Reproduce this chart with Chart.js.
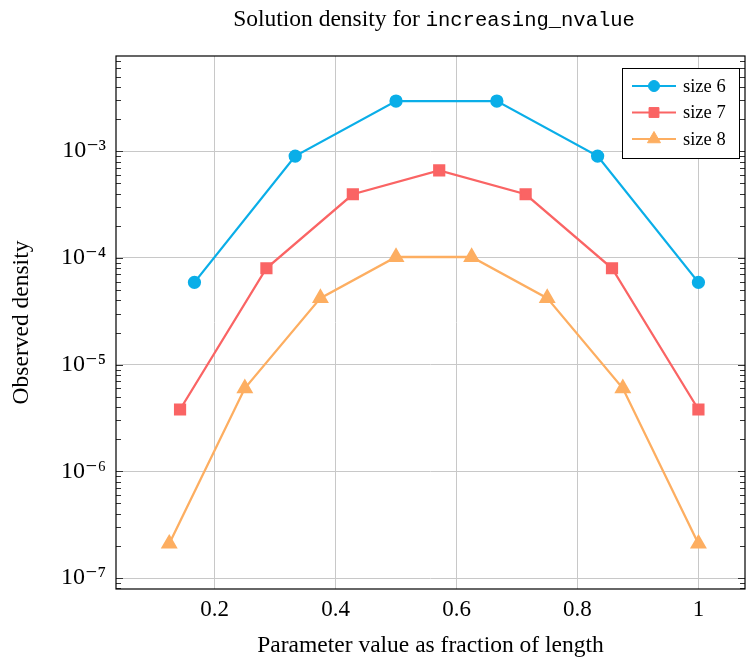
<!DOCTYPE html>
<html>
<head>
<meta charset="utf-8">
<script src="https://cdn.jsdelivr.net/npm/chart.js@4.4.1/dist/chart.umd.min.js"></script>
<style>
  html, body { margin: 0; padding: 0; background: #fff; overflow: hidden; }
  #wrap { position: relative; width: 746px; height: 662px; }
  #chart { display: block; }
  #title {
    position: absolute; left: 116px; width: 636px; top: 5px;
    text-align: center; font-family: "Liberation Serif", serif; font-size: 23.5px; color: #000;
  }
  #title code { font-family: "Liberation Mono", "DejaVu Sans Mono", monospace; font-size: 20.5px; }
</style>
</head>
<body>
<div id="wrap">
  <div id="title">Solution density for <code>increasing_nvalue</code></div>
  <canvas id="chart" width="746" height="662"></canvas>
</div>
<script>
// data
const seriesLabels = ["size 6", "size 7", "size 8"];
const size6X = [0.1667, 0.3333, 0.5, 0.6667, 0.8333, 1.0];
const size6Y = [5.9e-5, 9.0e-4, 2.95e-3, 2.95e-3, 9.0e-4, 5.9e-5];
const size7X = [0.1429, 0.2857, 0.4286, 0.5714, 0.7143, 0.8571, 1.0];
const size7Y = [3.8e-6, 8.0e-5, 3.95e-4, 6.6e-4, 3.95e-4, 8.0e-5, 3.8e-6];
const size8X = [0.125, 0.25, 0.375, 0.5, 0.625, 0.75, 0.875, 1.0];
const size8Y = [2.1e-7, 6.0e-6, 4.2e-5, 1.02e-4, 1.02e-4, 4.2e-5, 6.0e-6, 2.1e-7];
const xTicks = [0.2, 0.4, 0.6, 0.8, 1];
const yTickExps = [-7, -6, -5, -4, -3];

const colors = ["#0aaee8", "#fa6464", "#fdae61"];
const styles = ["circle", "rect", "triangle"];
const radii = [5.5, 7, 7.5];
const serif = "'Liberation Serif', 'DejaVu Serif', serif";

function pts(xs, ys) {
  return xs.map((x, i) => ({ x: x, y: ys[i] }));
}

const sup = { "-": "\u207B", "0": "\u2070", "1": "\u00B9", "2": "\u00B2", "3": "\u00B3",
  "4": "\u2074", "5": "\u2075", "6": "\u2076", "7": "\u2077", "8": "\u2078", "9": "\u2079" };

function isMajor(v) {
  const e = Math.log10(v);
  return Math.abs(e - Math.round(e)) < 1e-6;
}

function noPad(s) {
  s.paddingLeft = 0; s.paddingRight = 0; s.paddingTop = 0; s.paddingBottom = 0;
}

// frame, inner minor ticks and legend box
const framePlugin = {
  id: "frame",
  afterDraw(chart) {
    const ctx = chart.ctx;
    const a = chart.chartArea;
    const ys = chart.scales.y;
    ctx.save();
    ctx.strokeStyle = "#333";
    ctx.lineWidth = 1;
    ys.ticks.forEach(t => {
      const p = Math.round(ys.getPixelForValue(t.value)) + 0.5;
      const len = isMajor(t.value) ? 7 : 5;
      ctx.beginPath();
      ctx.moveTo(a.left, p); ctx.lineTo(a.left + len, p);
      ctx.moveTo(a.right, p); ctx.lineTo(a.right - len, p);
      ctx.stroke();
    });
    ctx.strokeStyle = "#000";
    ctx.lineWidth = 1.2;
    ctx.strokeRect(a.left, a.top, a.right - a.left, a.bottom - a.top);

    // legend
    const bx = 622, by = 68, bw = 117, bh = 90;
    ctx.fillStyle = "#fff";
    ctx.fillRect(bx, by, bw, bh);
    ctx.strokeStyle = "#000";
    ctx.lineWidth = 1;
    ctx.strokeRect(bx + 0.5, by + 0.5, bw, bh);
    ctx.font = "18.5px " + serif;
    ctx.textBaseline = "middle";
    chart.data.datasets.forEach((ds, i) => {
      const y = by + 18 + i * 26.5;
      ctx.strokeStyle = ds.borderColor;
      ctx.fillStyle = ds.borderColor;
      ctx.lineWidth = 2.2;
      ctx.beginPath();
      ctx.moveTo(bx + 10, y); ctx.lineTo(bx + 54, y);
      ctx.stroke();
      ctx.lineWidth = 1;
      Chart.helpers.drawPoint(ctx, {
        pointStyle: ds.pointStyle, radius: ds.pointRadius, borderWidth: 1, rotation: 0
      }, bx + 32, y);
      ctx.fillStyle = "#000";
      ctx.fillText(ds.label, bx + 61, y + 1);
    });
    ctx.restore();
  }
};

const datasets = [pts(size6X, size6Y), pts(size7X, size7Y), pts(size8X, size8Y)].map((d, i) => ({
  label: seriesLabels[i],
  data: d,
  borderColor: colors[i],
  backgroundColor: colors[i],
  pointBackgroundColor: colors[i],
  pointBorderColor: colors[i],
  pointStyle: styles[i],
  pointRadius: radii[i],
  borderWidth: 2.3,
  tension: 0,
}));

new Chart(document.getElementById("chart"), {
  type: "line",
  data: { datasets: datasets },
  plugins: [framePlugin],
  options: {
    responsive: false,
    animation: false,
    layout: { autoPadding: false, padding: { top: 56, right: 1, bottom: 0, left: 0 } },
    plugins: {
      legend: { display: false },
      tooltip: { enabled: false },
      title: { display: false },
    },
    scales: {
      x: {
        type: "linear",
        min: 0.037,
        max: 1.077,
        afterBuildTicks: s => { s.ticks = xTicks.map(v => ({ value: v })); },
        afterFit: s => { s.height = 73; noPad(s); },
        grid: { color: "#c8c8c8", lineWidth: 1, drawTicks: false },
        border: { display: false },
        ticks: {
          padding: 7,
          color: "#000",
          font: { family: serif, size: 23 },
          callback: v => String(v),
        },
        title: {
          display: true,
          text: "Parameter value as fraction of length",
          color: "#000",
          font: { family: serif, size: 23.5 },
          padding: { top: 0, bottom: 2 },
        },
      },
      y: {
        type: "logarithmic",
        min: 7.9e-8,
        max: 7.8e-3,
        afterBuildTicks: s => {
          const t = [];
          const exps = [yTickExps[0] - 1].concat(yTickExps);
          exps.forEach(e => {
            for (let m = 1; m < 10; m++) {
              const v = m * Math.pow(10, e);
              if (v >= s.min && v <= s.max) t.push({ value: v, major: m === 1 });
            }
          });
          s.ticks = t;
        },
        afterFit: s => { s.width = 116; noPad(s); },
        grid: {
          drawTicks: false,
          color: c => (c.tick && isMajor(c.tick.value)) ? "#c8c8c8" : "rgba(0,0,0,0)",
        },
        border: { display: false },
        ticks: {
          autoSkip: false,
          padding: 10,
          color: "#000",
          font: { family: serif, size: 24 },
          callback: v => {
            if (!isMajor(v)) return "";
            const e = String(Math.round(Math.log10(v)));
            return "10" + e.split("").map(c => sup[c]).join("");
          },
        },
        title: {
          display: true,
          text: "Observed density",
          color: "#000",
          font: { family: serif, size: 23.5 },
          padding: { top: 8, bottom: 0 },
        },
      },
    },
  },
});
</script>
</body>
</html>
